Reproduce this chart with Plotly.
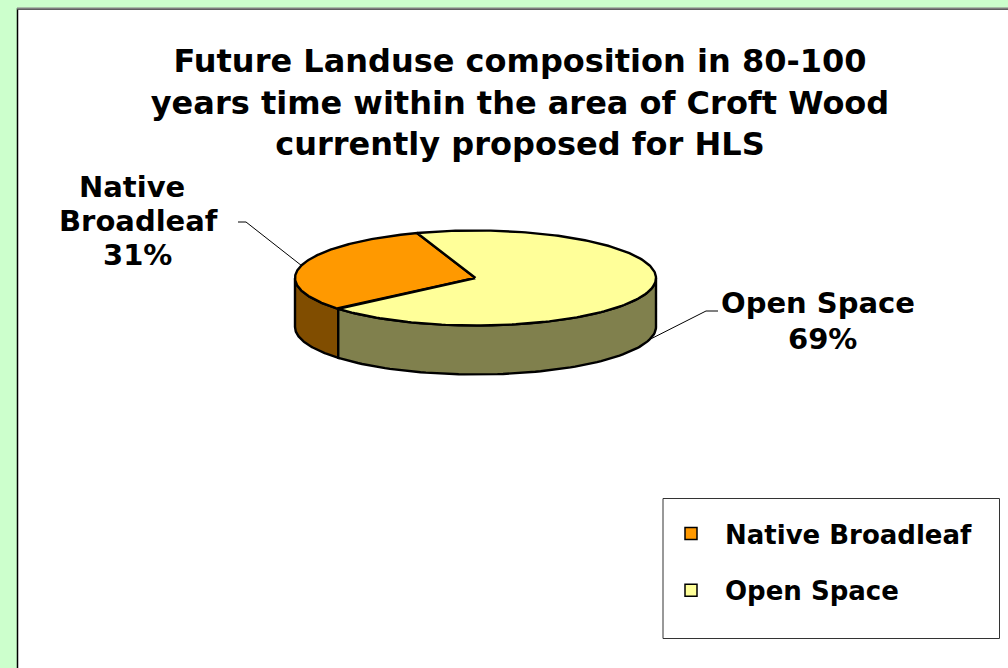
import numpy as np
import plotly.graph_objects as go

# Data
categories = ["Native Broadleaf", "Open Space"]
values = [31, 69]
top_colors = ["#FF9900", "#FFFF99"]
side_colors = ["#804D00", "#80804D"]
title_lines = ["Future Landuse composition in 80-100",
               "years time within the area of Croft Wood",
               "currently proposed for HLS"]

# Pie geometry in page pixels (axis range equals the page)
W, H = 1008, 668
CX, CY, RX, RY, DEPTH = 475.5, 278, 180.5, 47.5, 49
START = 220.5  # degrees, math convention; slices run clockwise


def ex(a):
    return CX + RX * np.cos(np.radians(a))


def ey(a, d=0):
    return CY - RY * np.sin(np.radians(a)) + d


fractions = np.array(values) / sum(values)
ends = START - np.cumsum(fractions) * 360
starts = np.concatenate([[START], ends[:-1]])

fig = go.Figure()
LINE = dict(color="black", width=2.4)

# Side walls: only the front half (180..360 deg) of the rim is visible
for s, e, col, name in zip(starts, ends, side_colors, categories):
    for shift in (0, 360, 720):
        lo = max(e + shift, 180.0)
        hi = min(s + shift, 360.0)
        if hi > lo:
            a = np.linspace(hi, lo, 80)
            xs = np.concatenate([ex(a), ex(a[::-1]), ex(a[:1])])
            ys = np.concatenate([ey(a), ey(a[::-1], DEPTH), ey(a[:1])])
            fig.add_trace(go.Scatter(x=xs, y=ys, mode="lines", fill="toself",
                                     fillcolor=col, line=LINE, showlegend=False,
                                     name=name, hoverinfo="skip"))

# Top faces
for s, e, col, name, v in zip(starts, ends, top_colors, categories, values):
    a = np.linspace(s, e, 200)
    fig.add_trace(go.Scatter(x=np.concatenate([[CX], ex(a), [CX]]),
                             y=np.concatenate([[CY], ey(a), [CY]]),
                             mode="lines", fill="toself", fillcolor=col, line=LINE,
                             showlegend=False, name=name,
                             hovertemplate=f"{name}: {v}%<extra></extra>"))

# Leader lines start from each slice's mid angle
mids = (starts + ends) / 2
fig.add_trace(go.Scatter(x=[238, 246, ex(mids[0])], y=[222, 222, ey(mids[0])],
                         mode="lines", line=dict(color="black", width=1),
                         showlegend=False, hoverinfo="skip"))
fig.add_trace(go.Scatter(x=[718, 706, ex(mids[1])], y=[311, 311, ey(mids[1], DEPTH)],
                         mode="lines", line=dict(color="black", width=1),
                         showlegend=False, hoverinfo="skip"))

# Legend entries
for name, col in zip(categories, top_colors):
    fig.add_trace(go.Scatter(x=[None], y=[None], mode="markers", name=name,
                             legendgroup=name,
                             marker=dict(symbol="square", size=12, color=col,
                                         line=dict(color="black", width=1.5))))

FONT = "DejaVu Sans"
label_lines = [("Native", 132, 187), ("Broadleaf", 138, 221), (f"{values[0]}%", 137, 255),
               ("Open Space", 818, 303), (f"{values[1]}%", 822, 339)]
annotations = [dict(x=x, y=y, text=f"<b>{t}</b>", xref="x", yref="y", showarrow=False,
                    xanchor="center", yanchor="middle",
                    font=dict(size=29, family=FONT, color="black"))
               for t, x, y in label_lines]

fig.update_layout(
    width=W, height=H, margin=dict(l=0, r=0, t=0, b=0),
    paper_bgcolor="#CCFFCC", plot_bgcolor="rgba(0,0,0,0)",
    xaxis=dict(range=[0, W], visible=False, fixedrange=True),
    yaxis=dict(range=[H, 0], visible=False, fixedrange=True),
    title=dict(text="<b>" + "<br>".join(title_lines) + "</b>",
               x=520 / W, xanchor="center", y=1 - 72 / H, yanchor="middle",
               font=dict(size=32, family=FONT, color="black")),
    annotations=annotations,
    legend=dict(x=657 / W, y=1 - 510 / H, xanchor="left", yanchor="top",
                bgcolor="rgba(0,0,0,0)",
                font=dict(size=26, family=FONT, color="black", weight="bold"),
                tracegroupgap=20, itemwidth=58),
    shapes=[
        dict(type="rect", layer="below", x0=17.5, y0=9, x1=1030, y1=700,
             fillcolor="white", line=dict(color="black", width=1.5)),
        dict(type="line", layer="below", x0=17, y0=8.5, x1=1008, y1=8.5,
             line=dict(color="#808080", width=2)),
        dict(type="rect", layer="below", x0=663, y0=498.5, x1=999.5, y1=638.5,
             fillcolor="white", line=dict(color="#333333", width=1)),
    ],
)

fig.write_html("out.html", post_script="document.body.style.margin='0';",
               config={"displayModeBar": False})
